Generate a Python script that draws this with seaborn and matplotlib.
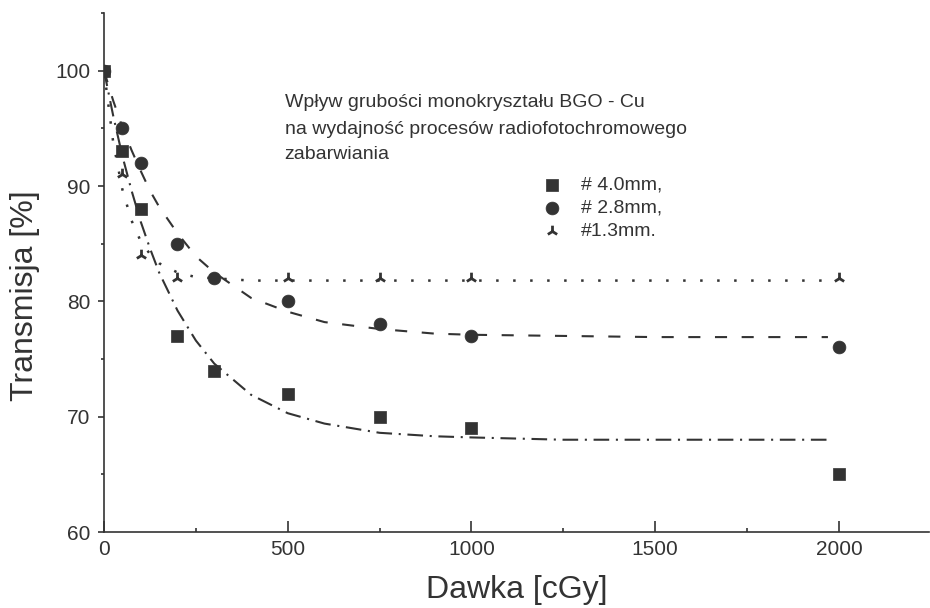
import matplotlib
matplotlib.use("Agg")
import matplotlib.pyplot as plt
from matplotlib import font_manager
from matplotlib.ticker import MultipleLocator
import seaborn as sns
import pandas as pd

# ---- data ----
dose = [0, 50, 100, 200, 300, 500, 750, 1000, 2000]
trans_40 = [100, 93, 88, 77, 74, 72, 70, 69, 65]
trans_28 = [100, 95, 92, 85, 82, 80, 78, 77, 76]
trans_13 = [100, 91, 84, 82, 82, 82, 82, 82, 82]

# fitted curves as traced on the picture
fit_x = [0, 25, 50, 75, 100, 125, 150, 200, 250, 300, 400, 500, 600, 750, 900, 1000, 1250, 1500, 1750, 1970]
fit_40 = [100, 96.1, 92.6, 89.6, 86.9, 84.6, 82.5, 79.2, 76.6, 74.6, 71.9, 70.3, 69.4, 68.6, 68.3, 68.2, 68.0, 68.0, 68.0, 68.0]
fit_28 = [100, 97.4, 95.1, 93.1, 91.3, 89.6, 88.2, 85.9, 83.9, 82.5, 80.3, 79.1, 78.2, 77.6, 77.2, 77.1, 77.0, 76.9, 76.9, 76.9]
fit_13 = [100, 93.8, 89.7, 87.0, 85.2, 84.1, 83.3, 82.5, 82.1, 82.0, 81.8, 81.8, 81.8, 81.8, 81.8, 81.8, 81.8, 81.8, 81.8, 81.8]

labels = ["# 4.0mm,", "# 2.8mm,", "#1.3mm."]
x_ticks = [0, 500, 1000, 1500, 2000]
y_ticks = [60, 70, 80, 90, 100]
title_lines = ["Wpływ grubości monokryształu BGO - Cu",
               "na wydajność procesów radiofotochromowego",
               "zabarwiania"]
x_label = "Dawka [cGy]"
y_label = "Transmisja [%]"

sns.set_style("ticks")
names = {f.name for f in font_manager.fontManager.ttflist}
narrow = "Liberation Sans Narrow" if "Liberation Sans Narrow" in names else "Liberation Sans"
plt.rcParams["font.family"] = [narrow, "Liberation Sans", "DejaVu Sans"]

ink = "#333333"
fig = plt.figure(figsize=(9.3, 6.08), dpi=100)
ax = fig.add_axes([104 / 930, 1 - 532 / 608, 825 / 930, 519 / 608])

pts = pd.DataFrame({"dose": dose, "t40": trans_40, "t28": trans_28, "t13": trans_13})
fits = pd.DataFrame({"x": fit_x, "f40": fit_40, "f28": fit_28, "f13": fit_13})

lw = 1.5
sns.lineplot(data=fits, x="x", y="f40", ax=ax, color=ink, lw=lw,
             linestyle=(0, (7.5, 3.2, 1.0, 3.2)), zorder=2)
sns.lineplot(data=fits, x="x", y="f28", ax=ax, color=ink, lw=lw,
             linestyle=(0, (5.8, 7.0)), zorder=2)
sns.lineplot(data=fits, x="x", y="f13", ax=ax, color=ink, lw=1.8,
             linestyle=(0, (1.0, 5.8)), zorder=2)

sns.scatterplot(data=pts, x="dose", y="t40", ax=ax, marker="s", s=70,
                color=ink, edgecolor=ink, linewidth=0.5, label=labels[0], zorder=4)
sns.scatterplot(data=pts, x="dose", y="t28", ax=ax, marker="o", s=85,
                color=ink, edgecolor=ink, linewidth=0.5, label=labels[1], zorder=4)
sns.scatterplot(data=pts, x="dose", y="t13", ax=ax, marker="2", s=70,
                color=ink, linewidth=2.0, label=labels[2], zorder=5)

ax.set_xlim(0, 2245)
ax.set_ylim(60, 105)
ax.set_xticks(x_ticks)
ax.set_yticks(y_ticks)
ax.xaxis.set_minor_locator(MultipleLocator(250))
ax.yaxis.set_minor_locator(MultipleLocator(5))

for side in ["top", "right"]:
    ax.spines[side].set_visible(False)
for side in ["left", "bottom"]:
    ax.spines[side].set_linewidth(1.2)
    ax.spines[side].set_color(ink)

ax.tick_params(axis="y", which="major", direction="out", length=4, width=1.2,
               labelsize=15, pad=6, colors=ink)
ax.tick_params(axis="y", which="minor", direction="out", length=2.5, width=1.2, colors=ink)
ax.tick_params(axis="x", which="major", direction="in", length=8, width=1.2,
               labelsize=15, pad=6, colors=ink)
ax.tick_params(axis="x", which="minor", direction="in", length=3, width=1.2, colors=ink)

ax.set_xlabel(x_label, fontsize=23, color=ink, family=["Liberation Sans", "DejaVu Sans"])
ax.set_ylabel(y_label, fontsize=23, color=ink, family=["Liberation Sans", "DejaVu Sans"])
ax.xaxis.set_label_coords(0.5, -0.082)
ax.yaxis.set_label_coords(-0.078, 0.455)

for txt, yy in zip(title_lines, [0.8266, 0.7746, 0.7264]):
    ax.text(0.219, yy, txt, transform=ax.transAxes, fontsize=14, color=ink,
            ha="left", va="center")

leg = ax.legend(loc="upper left", bbox_to_anchor=((540 - 104) / 825, (532 - 176) / 519),
                frameon=False, fontsize=14, handlelength=1.2, handletextpad=0.9,
                labelspacing=0.28, borderpad=0, borderaxespad=0)
for t in leg.get_texts():
    t.set_color(ink)

fig.savefig("out.png", dpi=100, facecolor="white")
